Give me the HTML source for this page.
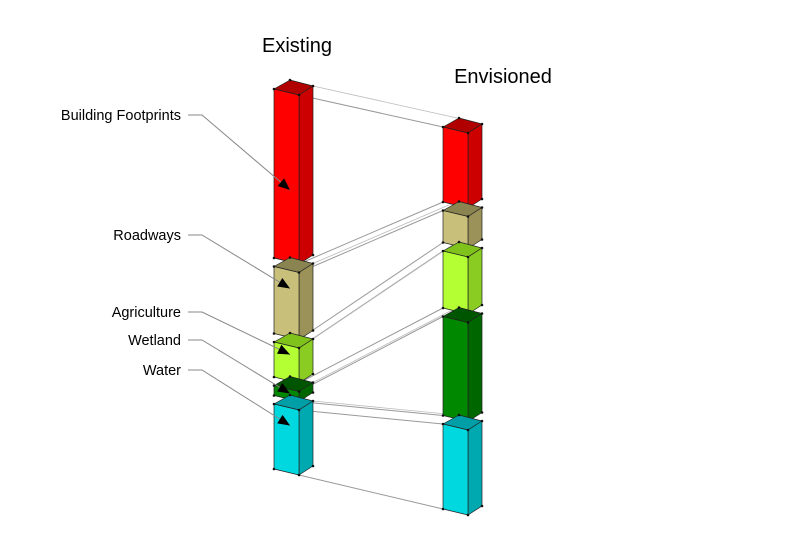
<!DOCTYPE html>
<html><head><meta charset="utf-8"><style>
html,body{margin:0;padding:0;background:#fff;}
svg{display:block;font-family:"Liberation Sans",sans-serif;}
</style></head><body>
<svg id="chart" width="800" height="533" viewBox="0 0 800 533" xmlns="http://www.w3.org/2000/svg">
<text x="297" y="52" font-size="20" text-anchor="middle">Existing</text>
<text x="503" y="83" font-size="20" text-anchor="middle">Envisioned</text>
<g id="links"></g>
<g id="boxes"></g>
<g id="labels"></g>
</svg>
<script>
const categories = ["Building Footprints","Roadways","Agriculture","Wetland","Water"];
const existingValues = [169, 67, 35, 10, 65];
const envisionedValues = [75, 32, 57, 99, 85];
const labelY = [115, 235, 312, 340, 370];

const NS = "http://www.w3.org/2000/svg";
const colors = [
  ["#ff0000","#cc0000","#b00000"],
  ["#c8c07a","#9a9258","#8a8450"],
  ["#b4ff33","#8acc22","#7fc21c"],
  ["#008800","#006600","#005500"],
  ["#00d8e0","#00a8b0","#009ea6"]
];
const scale = 1, gap = 8.5;
function mk(tag, attrs, parent){const e=document.createElementNS(NS,tag);for(const k in attrs)e.setAttribute(k,attrs[k]);parent.appendChild(e);return e;}
const boxes=document.getElementById('boxes'), links=document.getElementById('links'), labels=document.getElementById('labels');
const FW=25, FS=6, SW=14, SS=-9;

function column(values, x0, top, name){
  const segs=[]; let y=top;
  values.forEach((v,i)=>{
    const h=v*scale;
    const g=mk('g',{},boxes);
    
    
    const c=colors[i];
    const st={stroke:'#222','stroke-width':'0.7','stroke-linejoin':'round'};
    mk('polygon',Object.assign({points:`${x0},${y} ${x0+FW},${y+FS} ${x0+FW+SW},${y+FS+SS} ${x0+16},${y+SS}`,fill:c[2]},st),g);
    mk('polygon',Object.assign({points:`${x0+FW},${y+FS} ${x0+FW+SW},${y+FS+SS} ${x0+FW+SW},${y+FS+SS+h} ${x0+FW},${y+FS+h}`,fill:c[1]},st),g);
    mk('polygon',Object.assign({points:`${x0},${y} ${x0+FW},${y+FS} ${x0+FW},${y+FS+h} ${x0},${y+h}`,fill:c[0]},st),g);
    [[x0,y],[x0+FW,y+FS],[x0+FW+SW,y+FS+SS],[x0+16,y+SS],[x0,y+h],[x0+FW,y+FS+h],[x0+FW+SW,y+FS+SS+h]].forEach(p=>mk('circle',{cx:p[0],cy:p[1],r:1.3,fill:'#111'},g));
    segs.push({x0,y,h});
    y+=h+gap;
  });
  return segs;
}
const ex=column(existingValues,274,89,'existing');
const en=column(envisionedValues,443,127,'envisioned');

ex.forEach((s,i)=>{
  const t=en[i];
  const l1=mk('line',{x1:s.x0+FW,y1:s.y+FS,x2:t.x0,y2:t.y,stroke:'#999','stroke-width':'1'},links);
  
  
  const l2=mk('line',{x1:s.x0+FW,y1:s.y+FS+s.h,x2:t.x0,y2:t.y+t.h,stroke:'#999','stroke-width':'1'},links);
  
  
  const l3=mk('line',{x1:s.x0+FW+SW,y1:s.y+FS+SS,x2:t.x0+SW,y2:t.y+SS,stroke:'#bbb','stroke-width':'0.8'},links);
  
  
});

categories.forEach((c,i)=>{
  const s=ex[i];
  const ly=labelY[i];
  const tx=mk('text',{x:181,y:ly+5,'font-size':'14.5','text-anchor':'end'},labels);
  tx.textContent=c;
  
  
  const ax2=s.x0+16, ay2=(i===0?190:(i===3?s.y+8:s.y+Math.min(s.h*0.3,20)+2));
  const pl=mk('polyline',{points:`${188},${ly} ${202},${ly} ${ax2},${ay2}`,fill:'none',stroke:'#888','stroke-width':'1'},labels);
  
  
  const dx=ax2-202, dy=ay2-ly, L=Math.hypot(dx,dy), ux=dx/L, uy=dy/L;
  const bx=ax2-ux*12, by=ay2-uy*12;
  const ar=mk('polygon',{points:`${ax2},${ay2} ${bx-uy*5},${by+ux*5} ${bx+uy*5},${by-ux*5}`,fill:'#000'},labels);
  
  
});
</script>
</body></html>
